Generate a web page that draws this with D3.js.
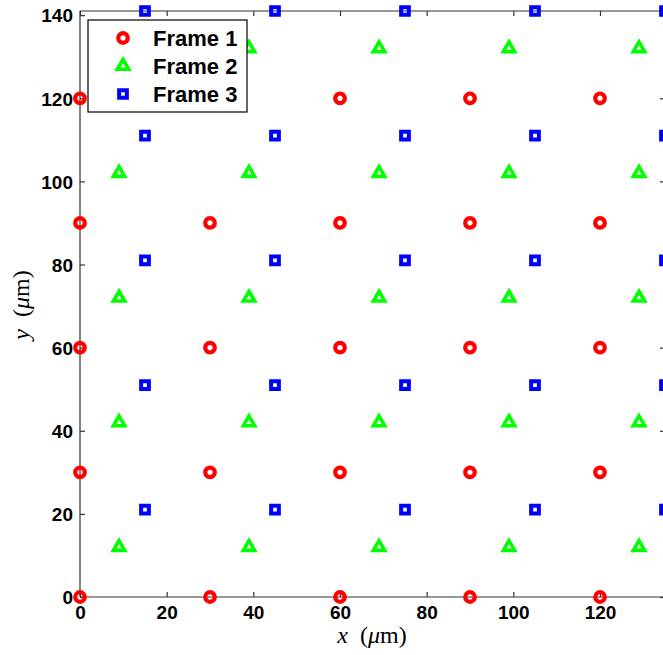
<!DOCTYPE html>
<html><head><meta charset="utf-8">
<script src="https://cdn.jsdelivr.net/npm/d3@7"></script>
<style>body{margin:0;background:#fff;} svg{display:block;}</style>
</head><body>
<script>
// Lattice coordinates (µm)
const frame1X = [0, 30, 60, 90, 120];
const frame1Y = [0, 30, 60, 90, 120];
const frame2X = [9, 39, 69, 99, 129];
const frame2Y = [12, 42, 72, 102, 132];
const frame3X = [15, 45, 75, 105, 135];
const frame3Y = [21, 51, 81, 111, 141];
const seriesNames = ["Frame 1", "Frame 2", "Frame 3"];
const seriesColors = ["#ff0000", "#00ff00", "#0000ff"];
const xTicks = [0, 20, 40, 60, 80, 100, 120];
const yTicks = [0, 20, 40, 60, 80, 100, 120, 140];

const W = 663, H = 655;
const svg = d3.select("body").append("svg").attr("width", W).attr("height", H);
const x = d3.scaleLinear().domain([0, 135]).range([80, 665]);
const y = d3.scaleLinear().domain([0, 141]).range([597, 11]);

function grid(xs, ys) { const out = []; ys.forEach(b => xs.forEach(a => out.push([a, b]))); return out; }
const pts = [grid(frame1X, frame1Y), grid(frame2X, frame2Y), grid(frame3X, frame3Y)];

const tickFont = "bold 19px 'Liberation Sans', Arial, sans-serif";
const axisColor = "#333";

// axes (MATLAB-style inward ticks)
const gB = svg.append("g").attr("transform", `translate(0,${y(0)})`)
  .call(d3.axisBottom(x).tickValues(xTicks).tickSize(-5).tickPadding(9).tickFormat(d3.format("d")));
const gT = svg.append("g").attr("transform", `translate(0,${y(141)})`)
  .call(d3.axisTop(x).tickValues(xTicks).tickSize(-5).tickFormat(""));
const gL = svg.append("g").attr("transform", `translate(${x(0)},0)`)
  .call(d3.axisLeft(y).tickValues(yTicks).tickSize(-5).tickPadding(7).tickFormat(d3.format("d")));
const gR = svg.append("g").attr("transform", `translate(${x(135)},0)`)
  .call(d3.axisRight(y).tickValues(yTicks).tickSize(-5).tickFormat(""));
[gB, gT, gL, gR].forEach(g => {
  g.select(".domain").attr("stroke", axisColor).attr("stroke-width", 1.2);
  g.selectAll(".tick line").attr("stroke", axisColor).attr("stroke-width", 1.2);
  g.selectAll("text").style("font", tickFont).attr("fill", "#000");
});
gB.select(".domain").attr("d", `M${x(0)},0H${x(135)}`);
gT.select(".domain").attr("d", `M${x(0)},0H${x(135)}`);
gL.select(".domain").attr("d", `M0,${y(0)}V${y(141)}`);
gR.select(".domain").attr("d", `M0,${y(0)}V${y(141)}`);
gL.selectAll("text").attr("dy", "0.36em");

// markers
const sym = [d3.symbolCircle, d3.symbolTriangle, d3.symbolSquare];
const symSize = [72, 55, 60];
const symStroke = [4.2, 3.6, 4];
function drawMarker(g, i, px, py) {
  g.append("path")
    .attr("d", d3.symbol().type(sym[i]).size(symSize[i])())
    .attr("transform", `translate(${px},${py})`)
    .attr("fill", "none").attr("stroke", seriesColors[i])
    .attr("stroke-width", symStroke[i]).attr("stroke-linejoin", "miter");
}
const gm = svg.append("g");
pts.forEach((arr, i) => arr.forEach(p => drawMarker(gm, i, x(p[0]), y(p[1]))));

// legend
const lg = svg.append("g");
lg.append("rect").attr("x", 88).attr("y", 20).attr("width", 159).attr("height", 92)
  .attr("fill", "#fff").attr("stroke", "#000").attr("stroke-width", 1.2);
const rowsY = [38, 66, 94];
seriesNames.forEach((n, i) => {
  drawMarker(lg, i, 123, rowsY[i]);
  lg.append("text").attr("x", 153).attr("y", rowsY[i]).attr("dy", "0.36em")
    .style("font", "bold 22px 'Liberation Sans', Arial, sans-serif").text(n);
});

// axis labels
const lblFont = "24px 'Liberation Serif', 'DejaVu Serif', serif";
function label(t) {
  t.append("tspan").style("font-style", "italic").text("x".length ? "" : "");
}
const xl = svg.append("text").attr("x", 372).attr("y", 643).attr("text-anchor", "middle").style("font", lblFont)
  .attr("xml:space", "preserve").style("white-space", "pre");
xl.append("tspan").style("font-style", "italic").text("x");
xl.append("tspan").text("  (");
xl.append("tspan").style("font-style", "italic").text("μ");
xl.append("tspan").text("m)");
const yl = svg.append("text").attr("transform", "translate(29,305) rotate(-90)").attr("text-anchor", "middle").style("font", lblFont)
  .style("white-space", "pre");
yl.append("tspan").style("font-style", "italic").text("y");
yl.append("tspan").text("  (");
yl.append("tspan").style("font-style", "italic").text("μ");
yl.append("tspan").text("m)");
</script>
</body></html>
